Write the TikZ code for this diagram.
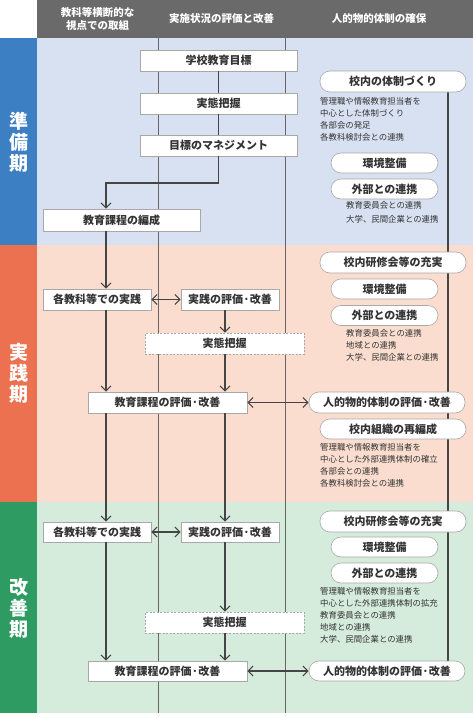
\documentclass[tikz,border=0pt]{standalone}
\usepackage{fontspec}
\setmainfont{Noto Sans CJK JP}
\usetikzlibrary{arrows.meta, calc, backgrounds}
\definecolor{headgray}{HTML}{6A6A6A}
\definecolor{prepbar}{HTML}{3C7FC3}
\definecolor{prepbg}{HTML}{D7E1F1}
\definecolor{pracbar}{HTML}{EB7150}
\definecolor{pracbg}{HTML}{FADDCF}
\definecolor{impbar}{HTML}{2E9B62}
\definecolor{impbg}{HTML}{D5EBDC}
\definecolor{boxline}{HTML}{A8A8A8}
\definecolor{flowline}{HTML}{454545}
\definecolor{textdark}{HTML}{333333}

\begin{document}
\begin{tikzpicture}[x=1pt, y=-1pt,
    >={Straight Barb[length=5pt,width=10pt]},
    box/.style={draw=boxline, fill=white, line width=0.6pt, minimum height=21pt,
      inner sep=0pt, text=textdark, font=\fontsize{11}{12}\selectfont\bfseries},
    roundbox/.style={box, rounded corners=10pt},
    dashbox/.style={box, dash pattern=on 2pt off 1.5pt},
    flow/.style={draw=flowline, line width=1.1pt},
    note/.style={anchor=north west, align=left, inner sep=0pt, text=textdark,
      font=\fontsize{8.4}{12}\selectfont},
    head/.style={align=center, text=white, font=\fontsize{10.5}{13.5}\selectfont\bfseries},
    phase/.style={align=center, text=white, font=\fontsize{19}{21}\selectfont\bfseries}]
  \useasboundingbox (0,0) rectangle (473,718);

  % Header
  \fill[headgray] (37,0) rectangle (473,38);
  \node[head] (h1) at (97.5,19) {教科等横断的な\\視点での取組};
  \node[head] (h2) at (221.5,19) {実施状況の評価と改善};
  \node[head] (h3) at (379,19) {人的物的体制の確保};

  % Phase labels
  \node[phase] (prep) at (19,142) {準\\備\\期};
  \node[phase] (prac) at (19,373) {実\\践\\期};
  \node[phase] (imp) at (19,608) {改\\善\\期};

  \coordinate (L) at (106,0);
  \coordinate (M) at (225,0);
  \coordinate (R) at (448,0);

  % Preparation
  \node[box, minimum width=157pt] (goal) at (218.5,60.5) {学校教育目標};
  \node[box, minimum width=157pt] (grasp1) at (218.5,103.5) {実態把握};
  \node[box, minimum width=157pt] (manage) at (218.5,145.5) {目標のマネジメント};
  \node[box, minimum width=157pt, minimum height=22pt] (compile) at (121.5,220) {教育課程の編成};
  \node[roundbox, minimum width=146pt] (taisei) at (393,81.5) {校内の体制づくり};
  \node[note] (note1) at (320,97) {管理職や情報教育担当者を\\中心とした体制づくり\\各部会の発足\\各教科検討会との連携};
  \node[roundbox, minimum width=107pt, minimum height=20pt] (kankyo1) at (384.5,163) {環境整備};
  \node[roundbox, minimum width=107pt, minimum height=20pt] (gaibu1) at (384.5,189) {外部との連携};
  \node[note, font=\fontsize{8.4}{14.5}\selectfont] (note2) at (346,201) {教育委員会との連携\\大学、民間企業との連携};

  % Practice
  \node[roundbox, minimum width=146pt] (kenshu2) at (393,262.5) {校内研修会等の充実};
  \node[roundbox, minimum width=107pt, minimum height=20pt] (kankyo2) at (384.5,289) {環境整備};
  \node[roundbox, minimum width=107pt, minimum height=20pt] (gaibu2) at (384.5,315.5) {外部との連携};
  \node[note] (note3) at (346,329) {教育委員会との連携\\地域との連携\\大学、民間企業との連携};
  \node[box, minimum width=108pt] (prac2) at (97,299.5) {各教科等での実践};
  \node[box, minimum width=98pt] (eval2) at (230,299.5) {実践の評価·改善};
  \node[dashbox, minimum width=159pt] (grasp2) at (224.5,343.5) {実態把握};
  \node[box, minimum width=159pt] (review2) at (167.5,402.5) {教育課程の評価·改善};
  \node[roundbox, minimum width=156pt] (human2) at (387,402.5) {人的物的体制の評価·改善};
  \node[roundbox, minimum width=146pt, minimum height=20pt] (reorg) at (393,429) {校内組織の再編成};
  \node[note] (note4) at (320,443) {管理職や情報教育担当者を\\中心とした外部連携体制の確立\\各部会との連携\\各教科検討会との連携};

  % Improvement
  \node[roundbox, minimum width=146pt] (kenshu3) at (393,521.5) {校内研修会等の充実};
  \node[roundbox, minimum width=107pt, minimum height=20pt] (kankyo3) at (384.5,547) {環境整備};
  \node[roundbox, minimum width=107pt, minimum height=20pt] (gaibu3) at (384.5,573) {外部との連携};
  \node[note] (note5) at (320,587) {管理職や情報教育担当者を\\中心とした外部連携体制の拡充\\教育委員会との連携\\地域との連携\\大学、民間企業との連携};
  \node[box, minimum width=108pt, minimum height=20pt] (prac3) at (97,532) {各教科等での実践};
  \node[box, minimum width=98pt, minimum height=20pt] (eval3) at (230,532) {実践の評価·改善};
  \node[dashbox, minimum width=159pt] (grasp3) at (224.5,622.5) {実態把握};
  \node[box, minimum width=159pt, minimum height=20pt] (review3) at (167.5,671) {教育課程の評価·改善};
  \node[roundbox, minimum width=156pt, minimum height=20pt] (human3) at (387,671) {人的物的体制の評価·改善};

  % Flow
  \draw[flow] (goal) -- (grasp1);
  \draw[flow] (grasp1) -- (manage);
  \coordinate (bend) at (106,183);
  \draw[flow,->] (manage.south) |- (bend) -- (compile.north -| bend);
  \draw[flow,->] (compile.south -| L) -- (prac2.north -| L);
  \draw[flow,<->] (prac2) -- (eval2);
  \draw[flow,->] (eval2.south -| M) -- (grasp2.north -| M);
  \draw[flow,->] (grasp2.south -| M) -- (review2.north -| M);
  \draw[flow,->] (prac2.south -| L) -- (review2.north -| L);
  \draw[flow,<->] (review2) -- (human2);
  \draw[flow,->] (review2.south -| L) -- (prac3.north -| L);
  \draw[flow,->] (review2.south -| M) -- (eval3.north -| M);
  \draw[flow,<->] (prac3) -- (eval3);
  \draw[flow,->] (eval3.south -| M) -- (grasp3.north -| M);
  \draw[flow,->] (grasp3.south -| M) -- (review3.north -| M);
  \draw[flow,->] (prac3.south -| L) -- (review3.north -| L);
  \draw[flow,<->] (review3) -- (human3);

  % Bands and column lines
  \begin{scope}[on background layer]
    \fill[prepbar] (0,38) rectangle (37,245);
    \fill[prepbg] (37,38) rectangle (473,245);
    \fill[pracbar] (0,245) rectangle (37,502);
    \fill[pracbg] (37,245) rectangle (473,502);
    \fill[impbar] (0,502) rectangle (37,713);
    \fill[impbg] (37,502) rectangle (473,713);
    \draw[black!30, line width=0.8pt] (158,0) -- (158,38) (285,0) -- (285,38);
    \draw[black!60, line width=0.9pt] (158,38) -- (158,713) (285,38) -- (285,713);
    \draw[flow] (taisei.south -| R) -- (human3.north -| R);
  \end{scope}
\end{tikzpicture}
\end{document}
